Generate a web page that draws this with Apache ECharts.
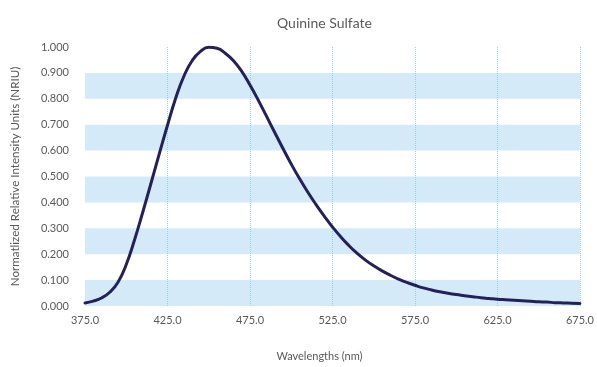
<!DOCTYPE html>
<html>
<head>
<meta charset="utf-8">
<script src="https://cdn.jsdelivr.net/npm/echarts@6/dist/echarts.min.js"></script>
<style>html,body{margin:0;padding:0;background:#fff;overflow:hidden}#c{width:597px;height:367px}</style>
</head>
<body>
<div id="c"></div>
<script>
const wavelengths = [375,380,385,390,395,400,405,410,415,420,425,430,435,440,445,450,455,460,465,470,475,480,485,490,495,500,505,510,515,520,525,530,535,540,545,550,555,560,565,570,575,580,585,590,595,600,605,610,615,620,625,630,635,640,645,650,655,660,665,670,675];
const intensity = [0.012,0.019,0.031,0.053,0.092,0.160,0.255,0.362,0.474,0.587,0.698,0.803,0.888,0.948,0.983,0.999,0.995,0.976,0.947,0.906,0.853,0.795,0.733,0.670,0.608,0.548,0.492,0.440,0.392,0.347,0.305,0.267,0.233,0.203,0.177,0.155,0.136,0.119,0.104,0.091,0.080,0.070,0.062,0.055,0.049,0.044,0.040,0.036,0.032,0.029,0.026,0.024,0.022,0.020,0.018,0.016,0.015,0.013,0.012,0.011,0.010];
const titleText = 'Quinine Sulfate';
const xName = 'Wavelengths (nm)';
const yName = 'Normatlized Relative Intensity Units (NRIU)';

const font = 'Lato';
const chart = echarts.init(document.getElementById('c'));
chart.setOption({
  animation: false,
  title: {
    text: titleText, left: 272, top: 11,
    textStyle: {fontFamily: font, fontSize: 14, fontWeight: 'normal', color: '#595959'}
  },
  grid: {left: 85, right: 17, top: 47, bottom: 58, containLabel: false},
  xAxis: {
    type: 'value', min: 375, max: 675, interval: 50,
    name: xName, nameLocation: 'middle', nameGap: 45,
    nameTextStyle: {fontFamily: font, fontSize: 11, color: '#595959', padding: [0, 26, 0, 0]},
    axisLine: {show: false}, axisTick: {show: false},
    axisLabel: {fontFamily: font, fontSize: 11, color: '#595959', margin: 9, formatter: v => v.toFixed(1)},
    splitLine: {show: true, showMinLine: false, showMaxLine: true, lineStyle: {type: 'dotted', color: '#8fd3f3', width: 1}}
  },
  yAxis: {
    type: 'value', min: 0, max: 1, interval: 0.1,
    name: yName, nameLocation: 'middle', nameGap: 64,
    nameTextStyle: {fontFamily: font, fontSize: 11.6, color: '#595959'},
    axisLine: {show: false}, axisTick: {show: false},
    axisLabel: {fontFamily: font, fontSize: 11, color: '#595959', margin: 16, formatter: v => v.toFixed(3)},
    splitLine: {show: false},
    splitArea: {show: true, areaStyle: {color: ['#d4eaf9', 'rgba(255,255,255,0)']}}
  },
  series: [{
    type: 'line', smooth: true, showSymbol: false,
    data: wavelengths.map((w, i) => [w, intensity[i]]),
    lineStyle: {color: '#23205a', width: 3, cap: 'round'},
    itemStyle: {color: '#23205a'}
  }]
});
</script>
</body>
</html>
